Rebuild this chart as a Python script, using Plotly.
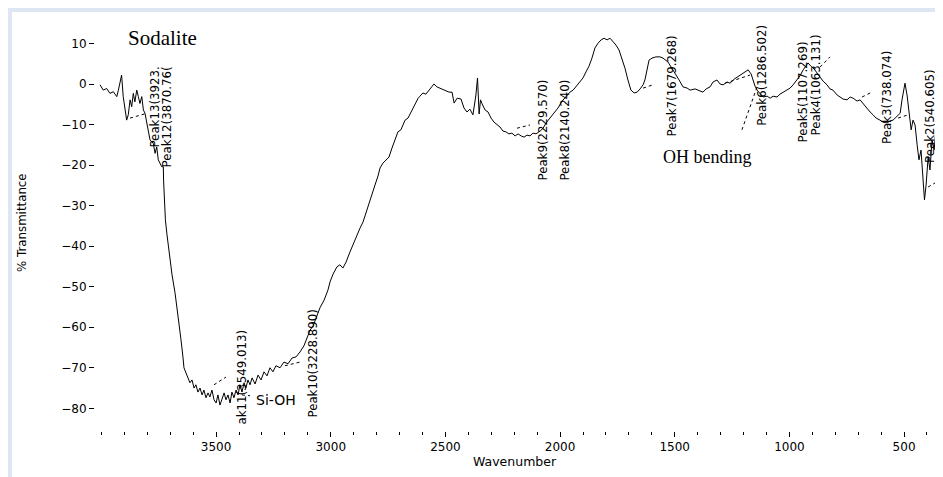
import plotly.graph_objects as go

# ---- spectrum data (wavenumber cm^-1, % transmittance) ----
wavenumber = [4006, 3992, 3977, 3963, 3948, 3933, 3926, 3912, 3905, 3897, 3890, 3883, 3875, 3868, 3861, 3854,
              3846, 3839, 3832, 3824, 3817, 3810, 3803, 3796, 3788, 3774, 3766, 3759, 3752, 3737, 3730,
              3729, 3725, 3721, 3714, 3701, 3692, 3679, 3666, 3653, 3644, 3640, 3631, 3623,
              3614, 3605, 3596, 3588, 3579, 3570, 3561, 3553, 3544, 3535, 3527, 3518, 3509, 3500, 3492,
              3483, 3474, 3465, 3457, 3448, 3439, 3431, 3422, 3413, 3404, 3396, 3387, 3378, 3370, 3361,
              3352, 3343, 3330, 3317, 3304, 3291, 3278, 3265, 3252, 3239, 3221, 3204, 3186, 3169, 3151,
              3134, 3117, 3103, 3090, 3077, 3064,
              3047, 3029, 3012, 3003, 2990, 2973, 2960, 2947, 2933, 2916, 2899, 2885, 2872, 2859, 2846,
              2833, 2820, 2807, 2794, 2785,
              2772, 2759, 2746, 2733, 2720, 2707, 2694, 2676, 2663, 2646, 2633, 2619, 2611, 2598, 2585,
              2571, 2558, 2550, 2537, 2524, 2510, 2497, 2484, 2471, 2462, 2449, 2432, 2419, 2406, 2393,
              2380, 2367, 2360, 2353, 2347, 2340, 2327, 2314, 2301, 2288, 2275, 2262, 2249, 2236, 2223,
              2210, 2196, 2183, 2170, 2157, 2144, 2131,
              2118, 2105, 2087, 2074, 2061, 2044, 2026, 2009, 1991, 1974, 1957, 1943, 1930, 1913, 1900,
              1887, 1874, 1861, 1848, 1834, 1821, 1808, 1795, 1782, 1769, 1756, 1743, 1730, 1717, 1704,
              1691, 1677, 1664, 1651, 1638, 1630, 1621, 1612, 1599, 1582, 1564, 1551,
              1529, 1512, 1499, 1481, 1464, 1446, 1433, 1411, 1390, 1377, 1363, 1346, 1333, 1316, 1302,
              1289, 1272, 1259, 1241, 1228, 1211, 1193, 1180, 1167, 1159, 1150, 1141, 1128, 1115, 1097,
              1084, 1071, 1054, 1041, 1028, 1010, 997, 984, 967, 954, 940, 927, 919, 906, 892,
              879, 866, 853, 836, 823, 810, 792, 779, 766, 749, 735, 722, 705, 692, 674,
              661, 648, 635, 622, 605, 592, 574, 561, 548, 535, 517, 509, 496, 487, 478,
              469, 461, 452, 443, 435, 426, 417, 411, 404, 395, 387, 378, 369, 360]
transmittance = [-0.2, -1.5, -1.1, -2.3, -1.9, -3.1, -1.5, 2.2, -3.1, -6.4, -8.9, -7.6, -3.9, -5.6, -2.3, -4.4,
                 -1.5, -3.1, -4.8, -3.1, -6.4, -7.2, -9.3, -10.5, -13.8, -14.6, -17.1, -15.5, -18.7, -20.4, -20.4,
                 -23.7, -28.6, -33.5, -37.2, -43.4, -47.1, -51.5, -56.9, -63.1, -67.6, -70.0, -71.3, -72.5,
                 -73.7, -73.0, -75.0, -74.2, -76.0, -75.0, -76.7, -75.5, -77.4, -76.2, -77.2, -75.5, -77.9, -78.7, -76.7,
                 -79.2, -77.4, -76.2, -77.9, -76.7, -78.7, -76.0, -77.4, -75.5, -76.7, -74.2, -76.0, -73.7, -75.0, -73.0,
                 -74.2, -72.5, -74.0, -71.8, -73.0, -71.0, -72.0, -70.0, -71.0, -69.5, -70.0, -68.6, -69.0, -67.6, -67.3,
                 -66.1, -64.6, -62.6, -60.7, -59.7, -57.7,
                 -55.2, -53.3, -50.8, -48.8, -46.9, -45.1, -44.6, -45.4, -43.9, -41.4, -39.0, -37.5, -35.5, -34.0, -31.6,
                 -29.3, -27.4, -24.9, -22.7, -20.7,
                 -19.5, -18.7, -18.0, -15.8, -13.8, -11.8, -11.3, -8.9, -8.4, -6.4, -4.9, -3.5, -3.0, -2.2, -2.5,
                 -1.5, -0.5, 0.0, -0.7, -1.0, -1.5, -1.7, -2.0, -2.0, -4.7, -3.5, -3.7, -5.9, -6.9, -6.2,
                 -7.6, -2.7, 1.5, -7.4, -3.9, -4.9, -6.4, -6.9, -8.4, -9.4, -9.9, -10.6, -11.6, -11.8, -12.3,
                 -12.1, -12.8, -12.3, -12.8, -13.1, -12.6, -12.8,
                 -12.1, -12.3, -11.6, -10.9, -9.6, -8.4, -7.2, -5.9, -4.2, -3.2, -2.0, -1.5, -0.5, 0.5, 1.5,
                 3.0, 4.4, 6.4, 8.9, 10.1, 10.9, 11.3, 10.9, 11.3, 10.4, 9.6, 8.4, 6.4, 3.9, 1.0,
                 -1.5, -2.2, -2.0, -1.2, -0.2, 1.0, 3.9, 5.9, 6.4, 6.7, 6.7, 6.4,
                 5.4, 3.9, 2.7, 1.0, -0.7, -1.0, -1.5, -1.2, -1.7, -2.0, -1.2, -0.7, 0.5, 1.0, 0.0,
                 -0.2, 0.5, 0.2, 1.2, 1.7, 2.2, 3.0, 3.5, 2.5, 1.0, -0.5, -1.5, -2.5, -3.2, -3.0,
                 -3.5, -3.0, -3.2, -2.5, -2.0, -1.5, -1.0, -0.2, 1.0, 2.0, 3.5, 4.7, 5.2, 4.4, 3.7,
                 2.7, 1.7, 0.7, -0.2, -1.2, -1.5, -2.7, -3.2, -3.7, -3.9, -3.2, -3.5, -4.2, -3.9, -5.2,
                 -5.9, -6.9, -7.6, -8.4, -8.9, -9.4, -9.6, -9.1, -8.9, -8.1, -7.2, -3.9, 0.2, -2.7, -6.4,
                 -11.3, -8.9, -10.1, -15.0, -18.7, -16.3, -22.4, -28.6, -24.9, -18.0, -21.2, -13.8, -16.3, -10.6]

# ---- dotted peak baselines (pairs, None separates segments) ----
base_w = [3875, 3801, None, 3509, 3457, None, 3387, 3352, None, 3200, 3134, None, 2188, 2131, None,
          1638, 1595, None, 1207, 1141, None, 1281, 1172, None, 866, 823, None, 683, 648, None,
          526, 483, None, 395, 365]
base_t = [-8.4, -7.2, None, -74.2, -72.3, None, -76.7, -76.9, None, -69.5, -68.6, None, -10.9, -10.1, None,
          -1.0, -0.2, None, -11.3, -0.7, None, 0.2, 2.2, None, 4.2, 6.7, None, -3.2, -2.2, None,
          -8.4, -7.6, None, -25.4, -24.4]

# ---- peak labels ----
peak_text = ["Peak13(3923.", "Peak12(3870.76(", "ak11(3549.013)", "Peak10(3228.890)",
             "Peak9(2229.570)", "Peak8(2140.240)", "Peak7(1679.268)", "Peak6(1286.502)",
             "Peak5(1107.269)", "Peak4(1063.131)", "Peak3(738.074)", "Peak2(540.605)"]
peak_x = [3766, 3714, 3387, 3077, 2074, 1978, 1512, 1119, 940, 884, 574, 387]
peak_top = [4.7, 4.7, -60.2, -55.0, 1.5, 1.5, 12.6, 15.0, 10.9, 12.6, 8.9, 4.2]

x_tickvals = [3500, 3000, 2500, 2000, 1500, 1000, 500]
y_tickvals = [10, 0, -10, -20, -30, -40, -50, -60, -70, -80]

fig = go.Figure()
fig.add_trace(go.Scatter(x=wavenumber, y=transmittance, mode="lines",
                         line=dict(color="black", width=1), hoverinfo="skip"))
fig.add_trace(go.Scatter(x=base_w, y=base_t, mode="lines", connectgaps=False,
                         line=dict(color="black", width=1, dash="dot"), hoverinfo="skip"))

ann = []
for t, xv, yv in zip(peak_text, peak_x, peak_top):
    ann.append(dict(x=xv, y=yv, xref="x", yref="y", text=t, textangle=-90, showarrow=False,
                    xanchor="center", yanchor="top",
                    font=dict(family="DejaVu Sans", size=11.8, color="black")))

ann += [
    dict(x=0.0795, y=0.956, xref="paper", yref="paper", text="Sodalite", showarrow=False,
         xanchor="center", yanchor="middle",
         font=dict(family="Liberation Serif", size=21, color="black")),
    dict(x=1355, y=-18.0, xref="x", yref="y", text="OH bending", showarrow=False,
         xanchor="center", yanchor="middle",
         font=dict(family="Liberation Serif", size=18, color="black")),
    dict(x=3239, y=-77.9, xref="x", yref="y", text="Si-OH", showarrow=False,
         xanchor="center", yanchor="middle",
         font=dict(family="DejaVu Sans", size=14, color="black")),
    dict(x=-0.0866, y=0.5085, xref="paper", yref="paper", text="% Transmittance", textangle=-90,
         showarrow=False, xanchor="center", yanchor="middle",
         font=dict(family="DejaVu Sans", size=11.8, color="black")),
    dict(x=0.498, y=-0.075, xref="paper", yref="paper", text="Wavenumber", showarrow=False,
         xanchor="center", yanchor="middle",
         font=dict(family="DejaVu Sans", size=12.5, color="black")),
]

frame = "#dde6f2"
shapes = [
    dict(type="rect", xref="paper", yref="paper", x0=-0.1032, x1=1.01, y0=1.0195, y1=1.0292,
         fillcolor=frame, line=dict(width=0), layer="below"),
    dict(type="rect", xref="paper", yref="paper", x0=-0.1032, x1=-0.0985, y0=-0.12, y1=1.0292,
         fillcolor=frame, line=dict(width=0), layer="below"),
]

fig.update_layout(
    width=935, height=469,
    margin=dict(l=87, r=5, t=12, b=46),
    paper_bgcolor="white", plot_bgcolor="white",
    showlegend=False,
    annotations=ann, shapes=shapes,
    xaxis=dict(range=[4028, 352], tickmode="array", tickvals=x_tickvals,
               ticks="outside", ticklen=5, tickcolor="black", showgrid=False, zeroline=False,
               showline=False, tickfont=dict(family="DejaVu Sans", size=12, color="black"),
               minor=dict(tickmode="linear", tick0=0, dtick=100, ticks="outside", ticklen=3,
                          tickcolor="black", showgrid=False)),
    yaxis=dict(range=[-85.6, 15.8], tickmode="array", tickvals=y_tickvals,
               ticks="outside", ticklen=5, tickcolor="black", showgrid=False, zeroline=False,
               showline=False, tickfont=dict(family="DejaVu Sans", size=12, color="black")),
)

fig.write_html("out.html")
